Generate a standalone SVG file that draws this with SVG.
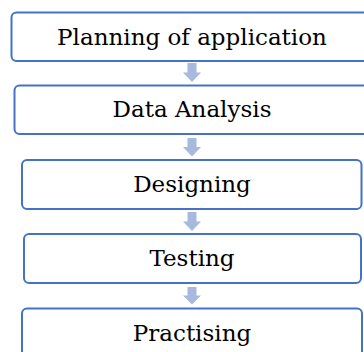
<svg xmlns="http://www.w3.org/2000/svg" width="364" height="352" viewBox="0 0 364 352">
<style>
.box{fill:#ffffff;stroke:#4472c4;stroke-width:2}
.lbl{font-family:"DejaVu Serif","Liberation Serif",serif;font-size:23px;fill:#000;text-anchor:middle}
.arr{fill:#a9b8de}
</style>
<rect width="364" height="352" fill="#ffffff"/>
<g id="connectors">
<path class="arr" d="M187.5 63h9v9.5h4.5l-9 9.5-9-9.5h4.5z"/>
<path class="arr" d="M187.5 138h9v9h4.5l-9 9.5-9-9.5h4.5z"/>
<path class="arr" d="M187.5 212h9v9.5h4.5l-9 9.5-9-9.5h4.5z"/>
<path class="arr" d="M187.5 287h9v8.5h4.5l-9 9-9-9h4.5z"/>
</g>
<g id="n1"><rect class="box" x="11.5" y="12.5" width="361" height="48.5" rx="5"/><text class="lbl" x="192" y="44.5">Planning of application</text></g>
<g id="n2"><rect class="box" x="14.5" y="85.5" width="355" height="48.5" rx="5"/><text class="lbl" x="192" y="117">Data Analysis</text></g>
<g id="n3"><rect class="box" x="22" y="160" width="339.5" height="49" rx="5"/><text class="lbl" x="192" y="191.5">Designing</text></g>
<g id="n4"><rect class="box" x="24" y="234" width="337" height="49" rx="5"/><text class="lbl" x="192" y="265.5">Testing</text></g>
<g id="n5"><rect class="box" x="22" y="308.5" width="340" height="49" rx="5"/><text class="lbl" x="192" y="340.5">Practising</text></g>
</svg>
